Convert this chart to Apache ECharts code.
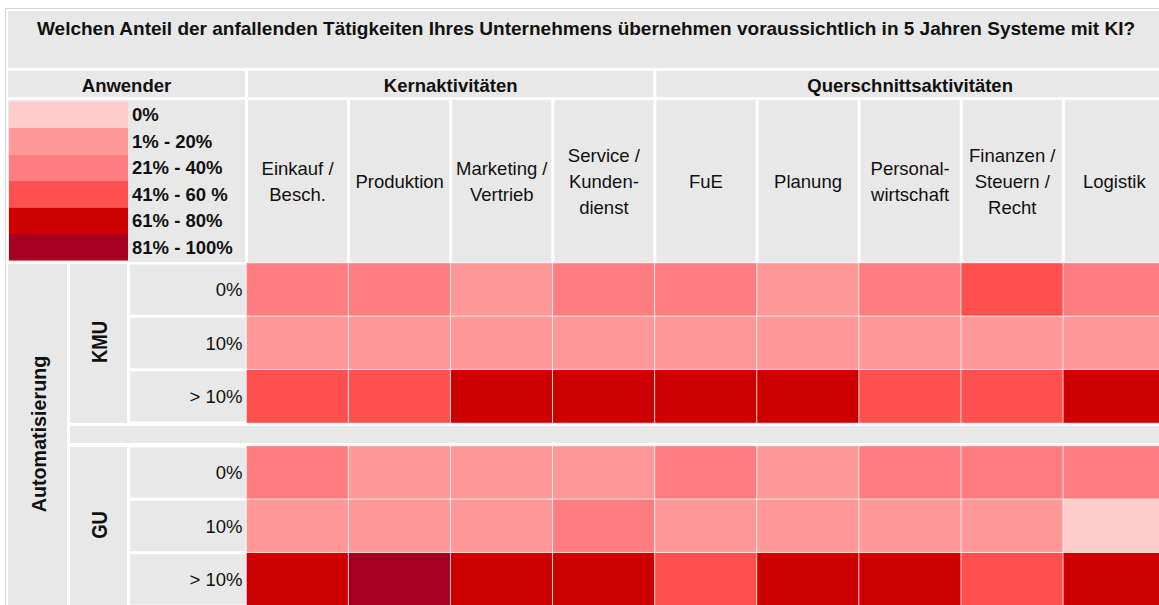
<!DOCTYPE html>
<html><head><meta charset="utf-8">
<script src="https://cdn.jsdelivr.net/npm/echarts@6/dist/echarts.min.js"></script>
<style>html,body{margin:0;padding:0;background:#fff;overflow:hidden;width:1159px;height:605px}#c{width:1175px;height:614px}</style>
</head><body><div id="c"></div>
<script>
const titleText = 'Welchen Anteil der anfallenden Tätigkeiten Ihres Unternehmens übernehmen voraussichtlich in 5 Jahren Systeme mit KI?';
const columns = ['Einkauf /\nBesch.', 'Produktion', 'Marketing /\nVertrieb', 'Service /\nKunden-\ndienst', 'FuE', 'Planung', 'Personal-\nwirtschaft', 'Finanzen /\nSteuern /\nRecht', 'Logistik'];
const groupHeaders = ['Kernaktivitäten', 'Querschnittsaktivitäten'];
const groupSpans = [4, 5];
const rowLabels = ['0%', '10%', '> 10%'];
const companyGroups = ['KMU', 'GU'];
const sideTitle = 'Automatisierung';
const legendTitle = 'Anwender';
const classLabels = ['0%', '1% - 20%', '21% - 40%', '41% - 60 %', '61% - 80%', '81% - 100%'];
const classColors = ['#FFCCCC', '#FF9999', '#FF7C80', '#FF5050', '#CC0000', '#A50021'];
// share class (index into classLabels) per activity, rows: 0%, 10%, > 10%
const kmu0 = [2, 2, 1, 2, 2, 1, 2, 3, 2];
const kmu10 = [1, 1, 1, 1, 1, 1, 1, 1, 1];
const kmuGt10 = [3, 3, 4, 4, 4, 4, 3, 3, 4];
const gu0 = [2, 1, 1, 1, 2, 1, 2, 2, 2];
const gu10 = [1, 1, 1, 2, 1, 1, 1, 1, 0];
const guGt10 = [4, 5, 4, 4, 3, 4, 4, 3, 4];

const FONT = '"Liberation Sans", Arial, sans-serif';
const FS = 18.5;
const GRAY = '#E8E8E8';
const TXT = '#111';
const gx = 246.5, colW = 102.1, gridH = 160, top1 = 263, top2 = 446;
const rowH = gridH / 3;
const colLeft = i => gx + colW * i;

function toData(rows) {
  const out = [];
  rows.forEach((r, y) => r.forEach((v, x) => out.push([x, y, v])));
  return out;
}

const g = [];
g.push({type: 'rect', shape: {x: 5.5, y: 8.5, width: 1180, height: 620}, style: {fill: '#fff', stroke: '#D6D6D6', lineWidth: 1}});
g.push({type: 'rect', shape: {x: 8, y: 11, width: 1170, height: 57}, style: {fill: GRAY}});
g.push({type: 'text', x: 586, y: 28, style: {text: titleText, font: 'bold 19px ' + FONT, fill: TXT, align: 'center', verticalAlign: 'middle'}});
g.push({type: 'rect', shape: {x: 8, y: 71, width: 237, height: 26}, style: {fill: GRAY}});
g.push({type: 'text', x: 126.5, y: 85, style: {text: legendTitle, font: 'bold ' + FS + 'px ' + FONT, fill: TXT, align: 'center', verticalAlign: 'middle'}});
let ci = 0;
groupHeaders.forEach((h, k) => {
  const x0 = colLeft(ci) + 1.5, x1 = colLeft(ci + groupSpans[k]) - 1.5;
  g.push({type: 'rect', shape: {x: x0, y: 71, width: x1 - x0, height: 26}, style: {fill: GRAY}});
  g.push({type: 'text', x: (x0 + Math.min(x1, 1166)) / 2, y: 85, style: {text: h, font: 'bold ' + FS + 'px ' + FONT, fill: TXT, align: 'center', verticalAlign: 'middle'}});
  ci += groupSpans[k];
});
g.push({type: 'rect', shape: {x: 8, y: 100, width: 237, height: 162}, style: {fill: GRAY}});
columns.forEach((c, i) => {
  g.push({type: 'rect', shape: {x: colLeft(i) + 1.5, y: 100, width: colW - 3, height: 162}, style: {fill: GRAY}});
});
g.push({type: 'rect', shape: {x: 8, y: 264, width: 59, height: 400}, style: {fill: GRAY}});
g.push({type: 'text', x: 39, y: 434, rotation: Math.PI / 2, style: {text: sideTitle, font: 'bold 19.7px ' + FONT, fill: TXT, align: 'center', verticalAlign: 'middle'}});
[top1, top2].forEach((t, k) => {
  g.push({type: 'rect', shape: {x: 70, y: t + 1, width: 57, height: (k === 0 ? gridH - 1 : 300)}, style: {fill: GRAY}});
  g.push({type: 'text', x: 99, y: t + gridH / 2 - 1, rotation: Math.PI / 2, scaleX: 0.84, scaleY: 1,
    style: {text: companyGroups[k], font: 'bold 22px ' + FONT, fill: TXT, align: 'center', verticalAlign: 'middle'}});
  for (let r = 0; r < 3; r++) {
    g.push({type: 'rect', shape: {x: 130, y: t + r * rowH + 1.5, width: gx - 130 + 1, height: rowH - 3}, style: {fill: GRAY}});
  }
});
g.push({type: 'rect', shape: {x: 70, y: 426, width: 1110, height: 17}, style: {fill: GRAY}});

const chart = echarts.init(document.getElementById('c'), null, {renderer: 'svg'});
const axisCommon = {type: 'category', axisLine: {show: false}, axisTick: {show: false}, splitLine: {show: false}};
chart.setOption({
  animation: false,
  backgroundColor: '#fff',
  graphic: {elements: g},
  grid: [
    {left: gx, top: top1, width: colW * 9, height: gridH},
    {left: gx, top: top2, width: colW * 9, height: gridH}
  ],
  xAxis: [
    Object.assign({}, axisCommon, {gridIndex: 0, data: columns, position: 'top',
      axisLabel: {interval: 0, margin: 82, verticalAlign: 'middle', align: 'center', fontSize: FS, lineHeight: 26, color: TXT, fontFamily: FONT}}),
    Object.assign({}, axisCommon, {gridIndex: 1, data: columns, axisLabel: {show: false}})
  ],
  yAxis: [
    Object.assign({}, axisCommon, {gridIndex: 0, data: rowLabels, inverse: true,
      axisLabel: {margin: 4, fontSize: FS, color: TXT, fontFamily: FONT}}),
    Object.assign({}, axisCommon, {gridIndex: 1, data: rowLabels, inverse: true,
      axisLabel: {margin: 4, fontSize: FS, color: TXT, fontFamily: FONT}})
  ],
  visualMap: {
    type: 'piecewise', orient: 'vertical', inverse: true, left: 9, top: 101.5, padding: 0,
    itemWidth: 119, itemHeight: 26.5, itemGap: 0, textGap: 4, itemSymbol: 'rect',
    selectedMode: false, hoverLink: false, seriesIndex: [0, 1],
    pieces: classLabels.map((l, i) => ({value: i, label: l, color: classColors[i]})),
    textStyle: {fontSize: FS, fontWeight: 'bold', color: TXT, fontFamily: FONT}
  },
  series: [
    {type: 'heatmap', xAxisIndex: 0, yAxisIndex: 0, data: toData([kmu0, kmu10, kmuGt10]),
      itemStyle: {borderColor: 'rgba(255,255,255,0.75)', borderWidth: 1}, emphasis: {disabled: true}},
    {type: 'heatmap', xAxisIndex: 1, yAxisIndex: 1, data: toData([gu0, gu10, guGt10]),
      itemStyle: {borderColor: 'rgba(255,255,255,0.75)', borderWidth: 1}, emphasis: {disabled: true}}
  ]
});
</script></body></html>
